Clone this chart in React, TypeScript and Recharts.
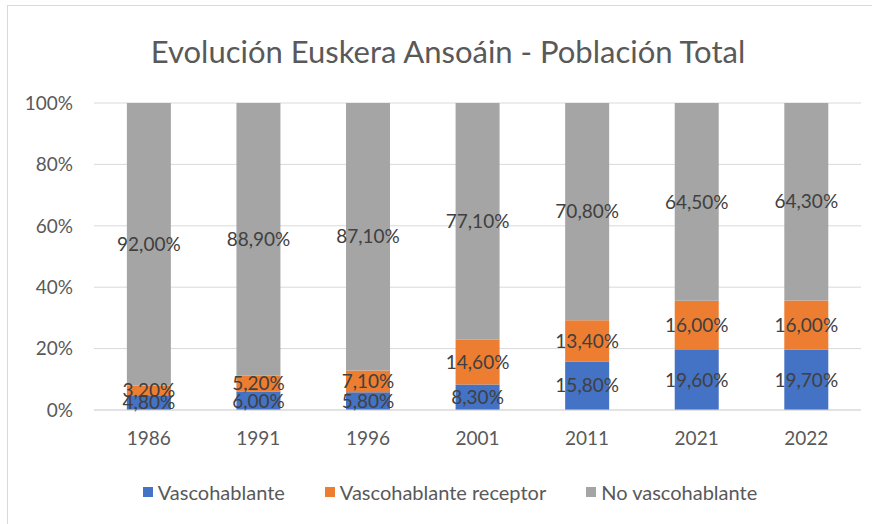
import { BarChart, Bar, XAxis, YAxis, CartesianGrid, LabelList } from 'recharts';

const years = ['1986', '1991', '1996', '2001', '2011', '2021', '2022'];
const vascohablante = [4.8, 6.0, 5.8, 8.3, 15.8, 19.6, 19.7];
const receptor = [3.2, 5.2, 7.1, 14.6, 13.4, 16.0, 16.0];
const noVascohablante = [92.0, 88.9, 87.1, 77.1, 70.8, 64.5, 64.3];
const yTicks = [0, 0.2, 0.4, 0.6, 0.8, 1];

const seriesNames = ['Vascohablante', 'Vascohablante receptor', 'No vascohablante'];
const colors = ['#4472C4', '#ED7D31', '#A5A5A5'];

const chartData = years.map((year, i) => ({
  year,
  vasco: vascohablante[i],
  receptor: receptor[i],
  no: noVascohablante[i],
}));

const fmt = (v: any) => (typeof v === 'number' ? `${v.toFixed(2).replace('.', ',')}%` : '');

const FONT = 'Lato, "Open Sans", sans-serif';
const TEXT = '#595959';

export default function App() {
  const labelStyle = { fill: '#404040', fontSize: 19, fontFamily: FONT };
  return (
    <div
      style={{
        position: 'absolute',
        left: 7,
        top: 5,
        width: 880,
        height: 530,
        border: '1px solid #d9d9d9',
        background: '#fff',
        fontFamily: FONT,
      }}
    >
      <div
        style={{
          position: 'absolute',
          left: 0,
          width: 880,
          top: 26,
          textAlign: 'center',
          fontSize: 31,
          lineHeight: '38px',
          color: TEXT,
        }}
      >
        Evolución Euskera Ansoáin - Población Total
      </div>
      <BarChart
        width={866}
        height={520}
        data={chartData}
        stackOffset="expand"
        barCategoryGap="30%"
        margin={{ top: 97, right: 13, bottom: 86, left: 0 }}
      >
        <CartesianGrid vertical={false} stroke="#d9d9d9" />
        <XAxis
          dataKey="year"
          axisLine={{ stroke: '#d9d9d9' }}
          tickLine={false}
          tickMargin={16}
          height={30}
          tick={{ fill: TEXT, fontSize: 19, fontFamily: FONT }}
        />
        <YAxis
          width={86}
          ticks={yTicks}
          domain={[0, 1]}
          axisLine={false}
          tickLine={false}
          tickMargin={15}
          tickFormatter={(v: number) => `${Math.round(v * 100)}%`}
          tick={{ fill: TEXT, fontSize: 19, fontFamily: FONT }}
        />
        <Bar dataKey="vasco" stackId="a" fill={colors[0]} isAnimationActive={false}>
          <LabelList dataKey="vasco" position="center" formatter={fmt} style={labelStyle} />
        </Bar>
        <Bar dataKey="receptor" stackId="a" fill={colors[1]} isAnimationActive={false}>
          <LabelList dataKey="receptor" position="center" formatter={fmt} style={labelStyle} />
        </Bar>
        <Bar dataKey="no" stackId="a" fill={colors[2]} isAnimationActive={false}>
          <LabelList dataKey="no" position="center" formatter={fmt} style={labelStyle} />
        </Bar>
      </BarChart>
      <div
        style={{
          position: 'absolute',
          left: 0,
          width: 884,
          top: 474,
          display: 'flex',
          justifyContent: 'center',
          gap: 40,
          fontSize: 20,
          lineHeight: '24px',
          color: TEXT,
        }}
      >
        {seriesNames.map((name, i) => (
          <div key={name} style={{ display: 'flex', alignItems: 'center' }}>
            <span
              style={{
                display: 'inline-block',
                width: 10,
                height: 10,
                background: colors[i],
                marginRight: 5,
              }}
            />
            {name}
          </div>
        ))}
      </div>
    </div>
  );
}
